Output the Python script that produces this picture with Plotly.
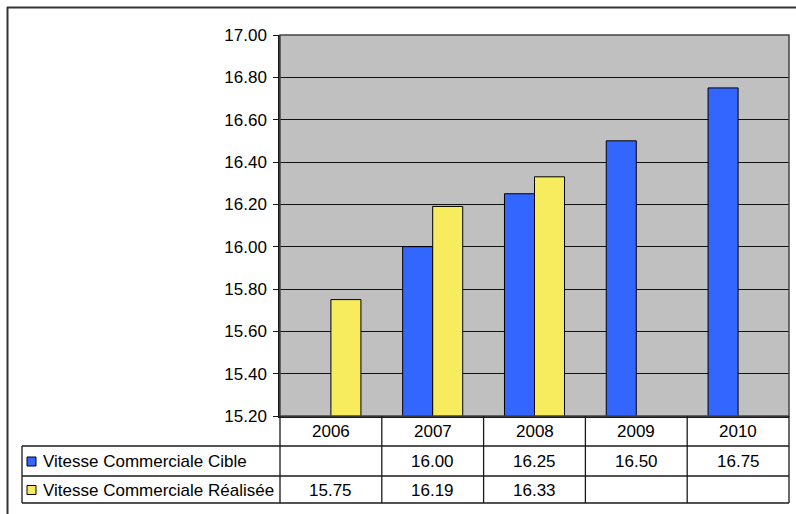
import plotly.graph_objects as go

# Data
years = ["2006", "2007", "2008", "2009", "2010"]
cible = [None, 16.00, 16.25, 16.50, 16.75]
realisee = [15.75, 16.19, 16.33, None, None]
series_names = ["Vitesse Commerciale Cible", "Vitesse Commerciale Réalisée"]
y_ticks = [15.20, 15.40, 15.60, 15.80, 16.00, 16.20, 16.40, 16.60, 16.80, 17.00]

BLUE = "#3366FF"
YELLOW = "#F7EB5E"
FONT = "Liberation Sans, Arial, sans-serif"
LINE = "#1a1a1a"
FS = 17

W, H = 796, 514
L, R, T, B = 280, 7, 35, 98
PW, PH = W - L - R, H - T - B


def px(x):
    return (x - L) / PW


def py(y):
    return (H - B - y) / PH


def col_center(i):
    return (i + 0.5) / len(years)


fig = go.Figure()
for name, vals, col in [(series_names[0], cible, BLUE), (series_names[1], realisee, YELLOW)]:
    fig.add_trace(go.Bar(
        x=years, y=vals, name=name, marker_color=col,
        marker_line_color="black", marker_line_width=1, showlegend=False,
    ))

shapes = []
# chart frame (top and left edges)
shapes.append(dict(type="line", xref="paper", yref="paper", x0=px(7), x1=px(796), y0=py(7.5), y1=py(7.5),
                   line=dict(color="#333", width=2)))
shapes.append(dict(type="line", xref="paper", yref="paper", x0=px(7.5), x1=px(7.5), y0=py(7), y1=py(514),
                   line=dict(color="#333", width=2)))
# plot area border
shapes.append(dict(type="rect", xref="paper", yref="paper", x0=0, x1=1, y0=0, y1=1,
                   line=dict(color="#444", width=1.5)))

# data table grid
row_lines = [446, 476, 503]
for ry in row_lines:
    shapes.append(dict(type="line", xref="paper", yref="paper", x0=px(22), x1=1, y0=py(ry), y1=py(ry),
                       line=dict(color=LINE, width=1.3)))
shapes.append(dict(type="line", xref="paper", yref="paper", x0=px(22), x1=px(22), y0=py(446), y1=py(503),
                   line=dict(color=LINE, width=1.3)))
for i in range(len(years) + 1):
    xb = i / len(years)
    shapes.append(dict(type="line", xref="paper", yref="paper", x0=xb, x1=xb, y0=0, y1=py(503),
                       line=dict(color=LINE, width=1.3)))

annotations = []
# year header row
for i, yr in enumerate(years):
    annotations.append(dict(xref="paper", yref="paper", x=col_center(i), y=py(431), text=yr, showarrow=False,
                            font=dict(family=FONT, size=FS, color="black"), xanchor="center", yanchor="middle"))
# series rows
row_centers = [461.5, 490]
for name, vals, col, cy in [(series_names[0], cible, BLUE, row_centers[0]),
                            (series_names[1], realisee, YELLOW, row_centers[1])]:
    shapes.append(dict(type="rect", xref="paper", yref="paper", x0=px(27), x1=px(36),
                       y0=py(cy + 4.5), y1=py(cy - 4.5), fillcolor=col, line=dict(color="black", width=1)))
    annotations.append(dict(xref="paper", yref="paper", x=px(41), y=py(cy), text=name, showarrow=False,
                            font=dict(family=FONT, size=FS, color="black"), xanchor="left", yanchor="middle"))
    for i, v in enumerate(vals):
        if v is not None:
            annotations.append(dict(xref="paper", yref="paper", x=col_center(i), y=py(cy), text=f"{v:.2f}",
                                    showarrow=False, font=dict(family=FONT, size=FS, color="black"),
                                    xanchor="center", yanchor="middle"))

fig.update_layout(
    width=W, height=H,
    margin=dict(l=L, r=R, t=T, b=B, pad=0),
    paper_bgcolor="white", plot_bgcolor="#C0C0C0",
    barmode="group", bargap=0.41, bargroupgap=0,
    font=dict(family=FONT, size=FS, color="black"),
    shapes=shapes, annotations=annotations,
    xaxis=dict(type="category", range=[-0.5, 4.5], showticklabels=False, showgrid=False,
               showline=True, linecolor=LINE, linewidth=1.5, ticks="", zeroline=False),
    yaxis=dict(range=[15.2, 17.0], tickvals=y_ticks, tickformat=".2f", showgrid=True,
               gridcolor="#111", gridwidth=1, showline=True, linecolor=LINE, linewidth=1.5,
               ticks="outside", ticklen=5, tickcolor=LINE, zeroline=False,
               tickfont=dict(family=FONT, size=FS, color="black"), ticklabelstandoff=3),
)

fig.write_html("out.html")
